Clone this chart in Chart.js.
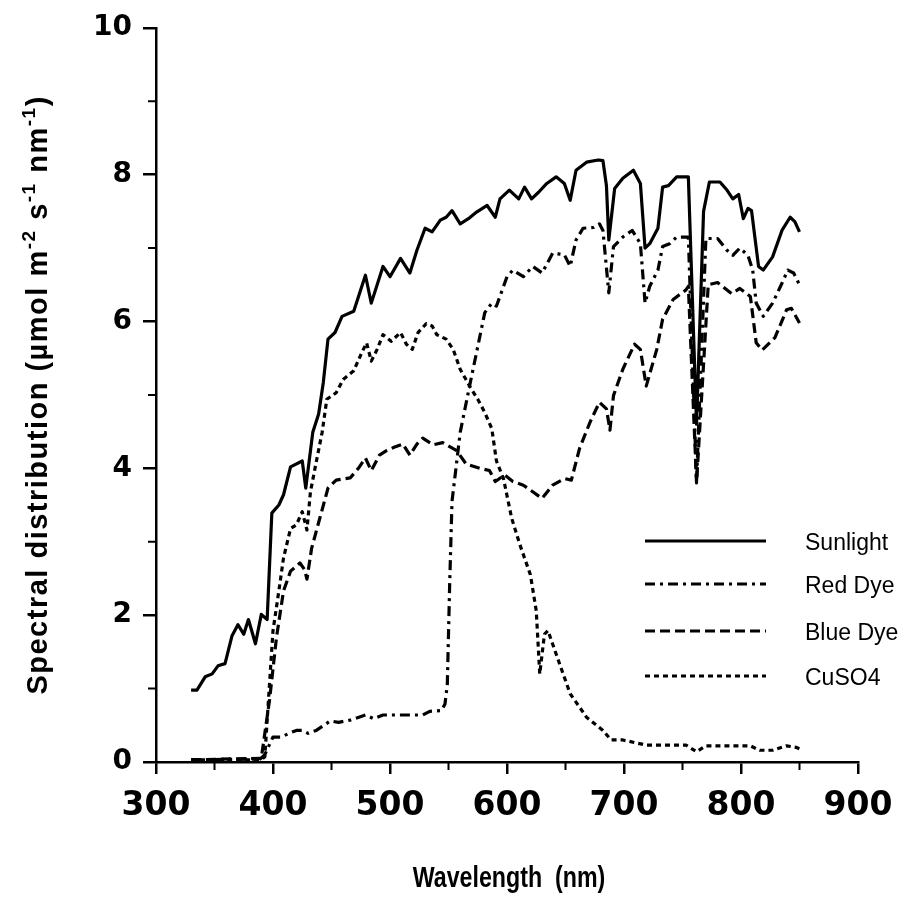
<!DOCTYPE html>
<html>
<head>
<meta charset="utf-8">
<title>Spectral distribution</title>
<script src="https://cdn.jsdelivr.net/npm/chart.js@4.4.1/dist/chart.umd.min.js"></script>
<style>
  html, body { margin: 0; padding: 0; background: #fff; }
  #wrap { width: 919px; height: 899px; }
</style>
</head>
<body>
<div id="wrap"><canvas id="spectra"></canvas></div>
<script>
// values (wavelength in nm, flux in umol m-2 s-1 nm-1)
const sunWl = [330, 335, 342, 348, 353, 359, 365, 370, 375, 379, 385, 390, 395, 399, 405, 409, 415, 425, 428, 434,
  439, 443, 447, 453, 459, 469, 479, 484, 494, 500, 509, 517, 523, 530, 536, 543, 548, 553, 560, 567,
  574, 583, 590, 594, 602, 610, 615, 621, 627, 634, 642, 649, 654, 659, 668, 678, 682, 685, 687, 692,
  699, 708, 714, 718, 722, 729, 733, 738, 745, 755, 762, 768, 773, 782, 788, 793, 798, 802, 806, 809,
  815, 819, 827, 835, 842, 846, 850];
const sunVal = [0.98, 0.98, 1.16, 1.20, 1.31, 1.34, 1.72, 1.87, 1.74, 1.94, 1.61, 2.01, 1.94, 3.39, 3.50, 3.64, 4.02, 4.10, 3.73, 4.49,
  4.74, 5.17, 5.76, 5.85, 6.07, 6.14, 6.63, 6.25, 6.75, 6.61, 6.86, 6.66, 6.97, 7.27, 7.22, 7.38, 7.42, 7.51, 7.33, 7.40,
  7.49, 7.58, 7.42, 7.67, 7.79, 7.67, 7.83, 7.67, 7.76, 7.88, 7.97, 7.88, 7.65, 8.06, 8.17, 8.20, 8.19, 7.85, 7.11, 7.81,
  7.95, 8.06, 7.88, 7.00, 7.06, 7.27, 7.83, 7.85, 7.97, 7.97, 4.60, 7.50, 7.90, 7.90, 7.79, 7.67, 7.73, 7.40, 7.54, 7.51,
  6.75, 6.70, 6.88, 7.24, 7.42, 7.36, 7.22];

const redWl = [330, 389, 393, 400, 407, 415, 420, 425, 430, 437, 449, 456, 466, 479, 486, 494, 511, 528, 534, 544,
  547, 549, 551, 553, 556, 560, 568, 574, 581, 587, 591, 600, 605, 614, 622, 630, 639, 649, 654, 659,
  665, 674, 679, 682, 687, 691, 699, 707, 714, 718, 722, 729, 733, 739, 745, 755, 762, 770, 780, 788,
  793, 799, 806, 810, 813, 819, 827, 835, 840, 845, 850];
const redVal = [0.03, 0.04, 0.10, 0.34, 0.34, 0.40, 0.43, 0.43, 0.39, 0.43, 0.56, 0.54, 0.57, 0.64, 0.59, 0.64, 0.64, 0.64, 0.69, 0.70,
  0.79, 1.06, 2.42, 3.55, 3.95, 4.49, 5.12, 5.58, 6.12, 6.25, 6.21, 6.61, 6.70, 6.61, 6.75, 6.66, 6.93, 6.91, 6.75, 7.11,
  7.27, 7.28, 7.33, 7.24, 6.39, 7.02, 7.15, 7.24, 7.06, 6.25, 6.48, 6.70, 7.02, 7.06, 7.15, 7.15, 3.82, 7.13, 7.13, 6.97,
  6.90, 7.00, 6.90, 6.70, 6.25, 6.07, 6.25, 6.52, 6.70, 6.66, 6.50];

const blueWl = [330, 390, 397, 403, 409, 415, 423, 427, 429, 433, 440, 447, 454, 466, 473, 479, 484, 491, 497, 504,
  511, 517, 523, 528, 537, 545, 557, 565, 577, 585, 590, 598, 605, 614, 622, 630, 639, 649, 655, 662,
  671, 679, 685, 688, 691, 699, 709, 714, 719, 728, 733, 742, 753, 755, 762, 772, 780, 792, 799, 808,
  813, 818, 829, 839, 843, 850];
const blueVal = [0.03, 0.05, 0.84, 1.70, 2.33, 2.60, 2.71, 2.62, 2.49, 2.91, 3.32, 3.73, 3.84, 3.87, 4.00, 4.14, 3.97, 4.18, 4.24, 4.29,
  4.33, 4.18, 4.33, 4.41, 4.32, 4.35, 4.24, 4.06, 4.00, 3.97, 3.82, 3.91, 3.82, 3.77, 3.68, 3.59, 3.77, 3.86, 3.84, 4.27,
  4.63, 4.90, 4.81, 4.52, 4.99, 5.35, 5.69, 5.62, 5.12, 5.62, 6.03, 6.30, 6.43, 6.48, 3.80, 6.50, 6.53, 6.38, 6.45, 6.34,
  5.71, 5.61, 5.78, 6.16, 6.18, 5.98];

const cuWl = [330, 390, 393, 397, 400, 405, 409, 415, 420, 425, 429, 432, 437, 442, 446, 454, 460, 469, 476, 480,
  484, 489, 494, 501, 509, 514, 519, 524, 531, 536, 540, 548, 554, 560, 568, 575, 581, 587, 591, 597,
  604, 611, 620, 625, 628, 632, 635, 642, 654, 668, 682, 689, 699, 719, 753, 762, 770, 808, 816, 827,
  839, 847, 850];
const cuVal = [0.03, 0.03, 0.07, 1.06, 1.79, 2.33, 2.78, 3.18, 3.23, 3.41, 3.16, 3.68, 4.09, 4.49, 4.94, 5.03, 5.21, 5.33, 5.58, 5.71,
  5.46, 5.62, 5.82, 5.73, 5.85, 5.69, 5.62, 5.85, 5.97, 5.94, 5.82, 5.76, 5.62, 5.35, 5.12, 4.94, 4.76, 4.54, 4.10, 3.86,
  3.32, 2.96, 2.55, 2.06, 1.20, 1.74, 1.79, 1.47, 0.93, 0.61, 0.43, 0.30, 0.30, 0.23, 0.23, 0.14, 0.22, 0.22, 0.16, 0.16,
  0.22, 0.20, 0.18];

const seriesNames = ['Sunlight', 'Red Dye', 'Blue Dye', 'CuSO4'];
const xTicks = [300, 400, 500, 600, 700, 800, 900];
const yTicks = [0, 2, 4, 6, 8, 10];
const xMinor = [350, 450, 550, 650, 750, 850];
const yMinor = [1, 3, 5, 7, 9];
const xTitle = 'Wavelength  (nm)';

const toPoints = (wl, val) => wl.map((w, i) => ({ x: w, y: val[i] }));

// minor ticks, axis titles (narrow x title, y title with superscripts) and the legend inside the plot
const extrasPlugin = {
  id: 'extras',
  afterDraw(chart) {
    const ctx = chart.ctx;
    const xs = chart.scales.x;
    const ys = chart.scales.y;
    const area = chart.chartArea;
    ctx.save();
    ctx.strokeStyle = '#000';
    ctx.lineWidth = 2;
    ctx.beginPath();
    xMinor.forEach(v => {
      const px = xs.getPixelForValue(v);
      ctx.moveTo(px, area.bottom);
      ctx.lineTo(px, area.bottom + 8);
    });
    yMinor.forEach(v => {
      const py = ys.getPixelForValue(v);
      ctx.moveTo(area.left, py);
      ctx.lineTo(area.left - 8, py);
    });
    ctx.stroke();
    ctx.restore();

    // x axis title, squeezed like the narrow face of the original
    ctx.save();
    ctx.fillStyle = '#000';
    ctx.font = 'bold 29px "Liberation Sans", Arial, sans-serif';
    ctx.textAlign = 'center';
    ctx.textBaseline = 'alphabetic';
    ctx.translate((area.left + area.right) / 2 + 2, 887);
    ctx.scale(0.8, 1);
    ctx.fillText(xTitle, 0, 0);
    ctx.restore();

    // y axis title
    ctx.save();
    const parts = [
      ['Spectral distribution (\u00b5mol m', false], ['-2', true], [' s', false], ['-1', true],
      [' nm', false], ['-1', true], [')', false]
    ];
    const big = 'bold 29px "Liberation Sans", Arial, sans-serif';
    const small = 'bold 19px "Liberation Sans", Arial, sans-serif';
    ctx.letterSpacing = '1.5px';
    let total = 0;
    parts.forEach(([t, sup]) => { ctx.font = sup ? small : big; total += ctx.measureText(t).width; });
    ctx.translate(37, (area.top + area.bottom) / 2);
    ctx.rotate(-Math.PI / 2);
    ctx.fillStyle = '#000';
    ctx.textBaseline = 'alphabetic';
    let cx = -total / 2;
    parts.forEach(([t, sup]) => {
      ctx.font = sup ? small : big;
      ctx.fillText(t, cx, sup ? -2 : 10);
      cx += ctx.measureText(t).width;
    });
    ctx.restore();

    // legend
    ctx.save();
    const rows = [541, 584, 631, 676];
    chart.data.datasets.forEach((ds, i) => {
      ctx.strokeStyle = '#000';
      ctx.lineWidth = ds.borderWidth;
      ctx.setLineDash(ds.borderDash || []);
      ctx.beginPath();
      ctx.moveTo(645, rows[i]);
      ctx.lineTo(766, rows[i]);
      ctx.stroke();
      ctx.setLineDash([]);
      ctx.fillStyle = '#000';
      ctx.font = '23px "Liberation Sans", Arial, sans-serif';
      ctx.textBaseline = 'middle';
      ctx.fillText(ds.label, 805, rows[i] + 3);
    });
    ctx.restore();
  }
};

const tickFont = { family: '"DejaVu Sans", sans-serif', weight: 'bold' };

new Chart(document.getElementById('spectra'), {
  type: 'line',
  data: {
    datasets: [
      { label: seriesNames[0], data: toPoints(sunWl, sunVal), borderDash: [] },
      { label: seriesNames[1], data: toPoints(redWl, redVal), borderDash: [10, 5, 3, 5] },
      { label: seriesNames[2], data: toPoints(blueWl, blueVal), borderDash: [10, 5] },
      { label: seriesNames[3], data: toPoints(cuWl, cuVal), borderDash: [5, 4] }
    ].map(ds => Object.assign(ds, {
      borderColor: '#000', borderWidth: 3.2, pointRadius: 0, tension: 0, fill: false,
      borderJoinStyle: 'round'
    }))
  },
  options: {
    responsive: true,
    maintainAspectRatio: false,
    animation: false,
    layout: { padding: { top: 22, right: 61, left: 0, bottom: 0 } },
    plugins: { legend: { display: false }, tooltip: { enabled: false } },
    scales: {
      x: {
        type: 'linear', min: 300, max: 900,
        afterBuildTicks: s => { s.ticks = xTicks.map(v => ({ value: v })); },
        afterFit: s => { s.height = 137; },
        grid: { drawOnChartArea: false, color: '#000', lineWidth: 2.5, tickLength: 12 },
        border: { color: '#000', width: 2.5 },
        ticks: { color: '#000', padding: 13, maxRotation: 0, font: Object.assign({ size: 33 }, tickFont) }
      },
      y: {
        type: 'linear', min: 0, max: 10,
        afterBuildTicks: s => { s.ticks = yTicks.map(v => ({ value: v })); },
        afterFit: s => { s.width = 156; },
        grid: { drawOnChartArea: false, color: '#000', lineWidth: 2.5, tickLength: 13 },
        border: { color: '#000', width: 2.5 },
        ticks: { color: '#000', padding: 11, font: Object.assign({ size: 28 }, tickFont) }
      }
    }
  },
  plugins: [extrasPlugin]
});
</script>
</body>
</html>
